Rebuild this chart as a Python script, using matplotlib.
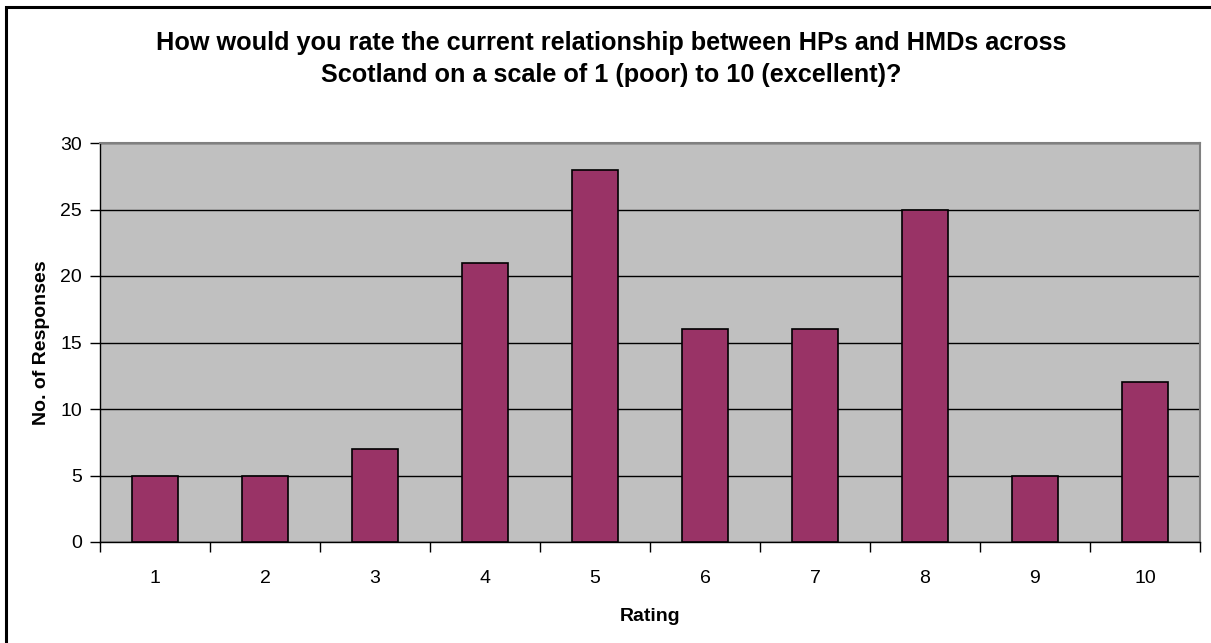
import matplotlib; matplotlib.use('Agg')
import matplotlib.pyplot as plt
from matplotlib.patches import Rectangle
from matplotlib.ticker import FixedLocator

ratings   = ['1', '2', '3', '4', '5', '6', '7', '8', '9', '10']
responses = [5, 5, 7, 21, 28, 16, 16, 25, 5, 12]
y_ticks   = [0, 5, 10, 15, 20, 25, 30]

W, H = 1211, 643
plt.rcParams['font.family'] = ['Liberation Sans', 'DejaVu Sans']

fig = plt.figure(figsize=(W / 100, H / 100), dpi=100)
ax = fig.add_axes([100 / W, 1 - 542 / H, 1100 / W, 399 / H])
ax.set_facecolor('#C0C0C0')

x = list(range(len(ratings)))
ax.set_axisbelow(True)
ax.grid(axis='y', color='black', lw=1)
ax.bar(x, responses, width=0.42, color='#993366', edgecolor='black', lw=1.2, zorder=3)

ax.set_xlim(-0.5, len(ratings) - 0.5)
ax.set_ylim(0, 30)
ax.set_yticks(y_ticks)
ax.set_xticks(x)
ax.set_xticklabels(ratings)
ax.xaxis.set_minor_locator(FixedLocator([i + 0.5 for i in range(-1, len(ratings))]))
ax.tick_params(axis='x', which='major', length=0, pad=20, labelsize=14)
ax.tick_params(axis='x', which='minor', length=7, direction='out', width=1)
ax.tick_params(axis='y', length=7, direction='out', width=1, labelsize=14, pad=6)

for s in ['top', 'right']:
    ax.spines[s].set_color('#808080')
    ax.spines[s].set_linewidth(1.5)
for s in ['left', 'bottom']:
    ax.spines[s].set_color('black')
    ax.spines[s].set_linewidth(1)

ax.set_xlabel('Rating', fontsize=14, fontweight='bold', labelpad=15)
ax.set_ylabel('No. of Responses', fontsize=14, fontweight='bold', labelpad=7)

fig.text(611 / W, 1 - 59 / H,
         'How would you rate the current relationship between HPs and HMDs across\n'
         'Scotland on a scale of 1 (poor) to 10 (excellent)?',
         ha='center', va='center', fontsize=18.2, fontweight='bold', linespacing=1.38)

# outer chart frame (cut off at right and bottom)
fig.patches.append(Rectangle((6 / W, -0.1), 1.2, 1 - 7 / H + 0.1, transform=fig.transFigure,
                             fill=False, edgecolor='black', lw=2.2))

fig.savefig('out.png', dpi=100)
